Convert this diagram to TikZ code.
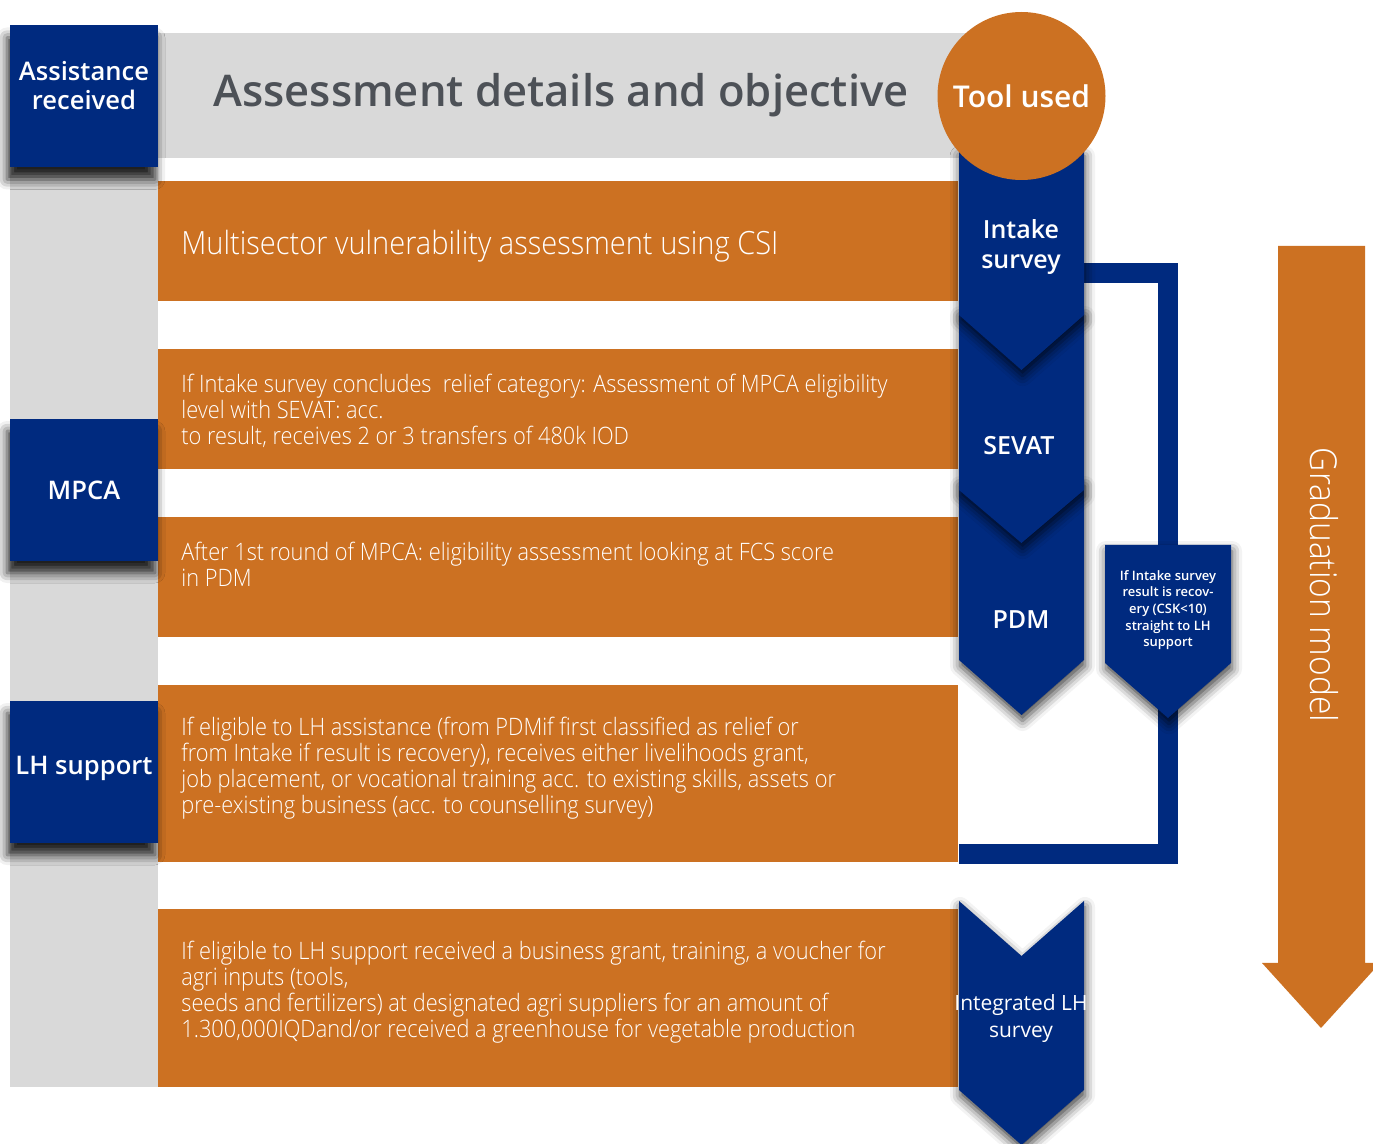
\documentclass[tikz,border=0pt]{standalone}
\usepackage{fontspec}
\setmainfont{Open Sans}
\newfontfamily\lightfont{Open Sans Light}[FakeStretch=0.907]
\newfontfamily\semifont{Open Sans Semibold}
\usetikzlibrary{shadows.blur}
\definecolor{navyblue}{RGB}{0,42,127}
\definecolor{rustorange}{RGB}{204,113,34}
\definecolor{panelgray}{RGB}{217,217,217}
\definecolor{titlegray}{RGB}{77,81,87}

\begin{document}
\begin{tikzpicture}[
    x=0.5pt, y=-0.5pt,
    catbox/.style={rectangle, fill=navyblue, minimum width=74pt, minimum height=71pt, inner sep=0pt,
        blur shadow={shadow xshift=-1.5pt, shadow yshift=-6pt, shadow blur radius=5pt, shadow opacity=85}},
    cattext/.style={text=white, align=center, font=\semifont\fontsize{12.8}{14.5}\selectfont},
    rowbox/.style={rectangle, fill=rustorange, minimum width=400pt, inner sep=0pt, anchor=north west},
    rowtext/.style={anchor=north west, inner sep=0pt, align=left, text=white, font=\lightfont\fontsize{12}{13}\selectfont},
    toolstep/.style={text=white, align=center, font=\semifont\fontsize{12.5}{15}\selectfont},
    chevron/.style={fill=navyblue, blur shadow={shadow xshift=0.5pt, shadow yshift=-3pt, shadow blur radius=5pt, shadow opacity=75}},
]
    \useasboundingbox (0,0) rectangle (1373,1144);

    % Grey panels
    \fill[panelgray] (10,30) rectangle (158,1087);
    \fill[panelgray] (158,33) rectangle (990,158);
    \node[anchor=west, inner sep=0pt, text=titlegray, font=\semifont\fontsize{21.8}{26}\selectfont] (title) at (213,95) {Assessment details and objective};

    % Orange rows
    \node[rowbox, minimum height=60pt] (row1) at (158,181) {};
    \node[rowbox, minimum height=60pt] (row2) at (158,349) {};
    \node[rowbox, minimum height=60pt] (row3) at (158,517) {};
    \node[rowbox, minimum height=88.5pt] (row4) at (158,685) {};
    \node[rowbox, minimum height=89pt] (row5) at (158,909) {};

    \node[anchor=west, inner sep=0pt, text=white, font=\lightfont\fontsize{16}{18}\selectfont] (txt1) at (181,246) {Multisector vulnerability assessment using CSI};
    \node[rowtext] (txt2) at (181,374) {If Intake survey concludes~ relief category: Assessment of MPCA eligibility\\level with SEVAT: acc.\\to result, receives 2 or 3 transfers of 480k IOD};
    \node[rowtext] (txt3) at (181,542) {After 1st round of MPCA: eligibility assessment looking at FCS score\\in PDM};
    \node[rowtext] (txt4) at (181,717) {If eligible to LH assistance (from PDMif first classified as relief or\\from Intake if result is recovery), receives either livelihoods grant,\\job placement, or vocational training acc. to existing skills, assets or\\pre-existing business (acc. to counselling survey)};
    \node[rowtext] (txt5) at (181,941) {If eligible to LH support received a business grant, training, a voucher for\\agri inputs (tools,\\seeds and fertilizers) at designated agri suppliers for an amount of\\1.300,000IQDand/or received a greenhouse for vegetable production};

    % Category boxes
    \node[catbox] (assist) at (84,96.5) {};
    \node[cattext] (assistlbl) at (84,86) {Assistance\\received};
    \node[catbox] (mpca) at (84,490) {};
    \node[cattext] (mpcalbl) at (84,490) {MPCA};
    \node[catbox] (lh) at (84,772) {};
    \node[cattext] (lhlbl) at (84,768) {LH support};

    % Shortcut from intake to LH support
    \coordinate (loopstart) at (1070,273);
    \coordinate (loopcorner) at (1168,854);
    \coordinate (loopend) at (959,854);
    \draw[navyblue, line width=9.75pt] (loopstart) -| (loopcorner) -- (loopend);

    % Tool chevrons
    \fill[chevron] (959,480) -- (1084,480) -- (1084,660) -- (1021.5,715) -- (959,660) -- cycle;
    \fill[chevron] (959,310) -- (1084,310) -- (1084,490) -- (1021.5,543) -- (959,490) -- cycle;
    \fill[chevron] (959,150) -- (1084,150) -- (1084,315) -- (1021.5,370) -- (959,315) -- cycle;
    \fill[chevron] (959,901) -- (1021.5,956) -- (1084,901) -- (1084,1090) -- (1021.5,1145) -- (959,1090) -- cycle;
    \fill[chevron] (1105,545) -- (1231,545) -- (1231,663) -- (1168,718) -- (1105,663) -- cycle;

    \node[toolstep] (intake) at (1021,247) {Intake\\survey};
    \node[toolstep] (sevat) at (1019,446) {SEVAT};
    \node[toolstep] (pdm) at (1021,620) {PDM};
    \node[text=white, align=center, font=\fontsize{10.5}{13.5}\selectfont] (intlh) at (1021,1019) {Integrated LH\\survey};
    \node[text=white, align=center, inner sep=0pt, font=\semifont\fontsize{6.5}{8.3}\selectfont] (shortcut) at (1168,610) {If Intake survey\\result is recov-\\ery (CSK<10)\\straight to LH\\support};

    % Tool header
    \node[circle, fill=rustorange, minimum size=84pt, inner sep=0pt, text=white, font=\semifont\fontsize{15}{18}\selectfont] (tool) at (1021.5,96) {Tool used};

    % Graduation arrow
    \fill[rustorange] (1278,246) -- (1365,246) -- (1365,963) -- (1380,963) -- (1321,1028) -- (1262,963) -- (1278,963) -- cycle;
    \node[rotate=-90, text=white, font=\lightfont\fontsize{18.5}{20}\selectfont] (gradlbl) at (1324,585) {Graduation model};
\end{tikzpicture}
\end{document}
